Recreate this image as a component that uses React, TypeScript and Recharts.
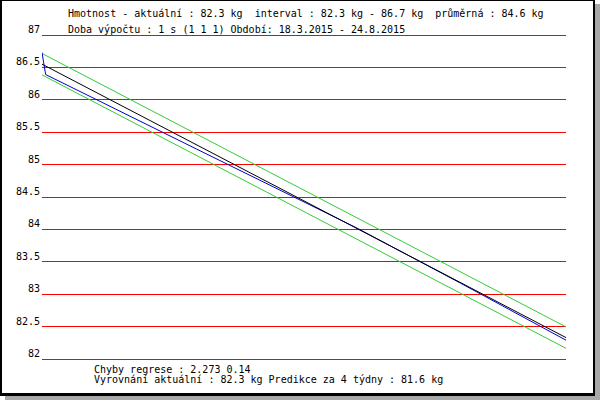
import { LineChart, Line, XAxis, YAxis, CartesianGrid } from "recharts";

// days from 18.3.2015 (0) to 24.8.2015 (159)
const lineDays = [0, 159];
const regression = [86.55, 82.33];
const upperBand = [86.715, 82.495];
const lowerBand = [86.385, 82.165];

const measuredDays = [0, 1.1, 46.9, 95.6, 127, 159];
const measured = [86.73, 86.39, 85.24, 84.02, 83.17, 82.29];

const yTicks = [82, 82.5, 83, 83.5, 84, 84.5, 85, 85.5, 86, 86.5, 87];

const headerLines = [
  "Hmotnost - aktuální : 82.3 kg  interval : 82.3 kg - 86.7 kg  průměrná : 84.6 kg",
  "Doba výpočtu : 1 s (1 1 1) Období: 18.3.2015 - 24.8.2015",
];
const footerLines = [
  "Chyby regrese : 2.273 0.14",
  "Vyrovnání aktuální : 82.3 kg Predikce za 4 týdny : 81.6 kg",
];

const FONT = "'DejaVu Sans Mono', monospace";

const toPoints = (xs: number[], ys: number[]) =>
  xs.map((day, i) => ({ day, value: ys[i] }));

const regressionData = toPoints(lineDays, regression);
const upperData = toPoints(lineDays, upperBand);
const lowerData = toPoints(lineDays, lowerBand);
const measuredData = toPoints(measuredDays, measured);

const LeftTick = (props: any) => (
  <text
    x={props.x}
    y={props.y - 2}
    textAnchor="end"
    fontFamily={FONT}
    fontSize={10}
    fill="#000"
  >
    {props.payload.value}
  </text>
);

const RightTick = (props: any) => (
  <text
    x={props.x}
    y={props.y - 2}
    textAnchor="start"
    fontFamily={FONT}
    fontSize={10}
    fill="#000"
  >
    {props.payload.value}
  </text>
);

export default function App() {
  return (
    <div
      style={{
        position: "fixed",
        left: 0,
        top: 0,
        width: 600,
        height: 400,
        background: "#fff",
        overflow: "hidden",
      }}
    >
      {/* frame with shadow */}
      <div
        style={{
          position: "absolute",
          left: 0,
          top: 0,
          width: 595,
          height: 396,
          boxSizing: "border-box",
          borderLeft: "2px solid #000",
          borderTop: "1px solid #000",
          borderRight: "2px solid #000",
          borderBottom: "3px solid #000",
          boxShadow: "5px 4px 0 #a8a8a8",
          background: "#fff",
        }}
      />

      <div style={{ position: "absolute", left: 0, top: 0 }}>
        <LineChart
          width={600}
          height={400}
          margin={{ top: 35, right: 0, bottom: 41, left: 0 }}
        >
          <CartesianGrid
            yAxisId="left"
            vertical={false}
            stroke="#ff0000"
            strokeWidth={1}
            shapeRendering="crispEdges"
          />
          <XAxis
            type="number"
            dataKey="day"
            domain={[0, 159]}
            allowDataOverflow
            hide
          />
          <YAxis
            yAxisId="left"
            orientation="left"
            width={42}
            domain={[82, 87]}
            ticks={yTicks}
            interval={0}
            axisLine={false}
            tickLine={false}
            tickSize={0}
            tickMargin={2}
            tick={LeftTick}
          />
          <YAxis
            yAxisId="right"
            orientation="right"
            width={34}
            domain={[82, 87]}
            ticks={yTicks}
            interval={0}
            axisLine={false}
            tickLine={false}
            tickSize={0}
            tickMargin={6}
            tick={RightTick}
          />
          <Line
            yAxisId="left"
            data={upperData}
            dataKey="value"
            type="linear"
            stroke="#33cc33"
            strokeWidth={1}
            dot={false}
            isAnimationActive={false}
          />
          <Line
            yAxisId="left"
            data={lowerData}
            dataKey="value"
            type="linear"
            stroke="#33cc33"
            strokeWidth={1}
            dot={false}
            isAnimationActive={false}
          />
          <Line
            yAxisId="left"
            data={measuredData}
            dataKey="value"
            type="linear"
            stroke="#0000cc"
            strokeWidth={1}
            dot={false}
            isAnimationActive={false}
          />
          <Line
            yAxisId="left"
            data={regressionData}
            dataKey="value"
            type="linear"
            stroke="#000000"
            strokeWidth={1}
            dot={false}
            isAnimationActive={false}
          />
        </LineChart>
      </div>

      <svg
        width={600}
        height={400}
        style={{ position: "absolute", left: 0, top: 0, pointerEvents: "none" }}
      >
        <g fontFamily={FONT} fontSize={10} fill="#000">
          <text x={68} y={17} xmlSpace="preserve" style={{ whiteSpace: "pre" }}>
            {headerLines[0]}
          </text>
          <text x={68} y={33} xmlSpace="preserve" style={{ whiteSpace: "pre" }}>
            {headerLines[1]}
          </text>
          <text x={94} y={372.5} xmlSpace="preserve" style={{ whiteSpace: "pre" }}>
            {footerLines[0]}
          </text>
          <text x={94} y={382.5} xmlSpace="preserve" style={{ whiteSpace: "pre" }}>
            {footerLines[1]}
          </text>
        </g>
      </svg>
    </div>
  );
}
